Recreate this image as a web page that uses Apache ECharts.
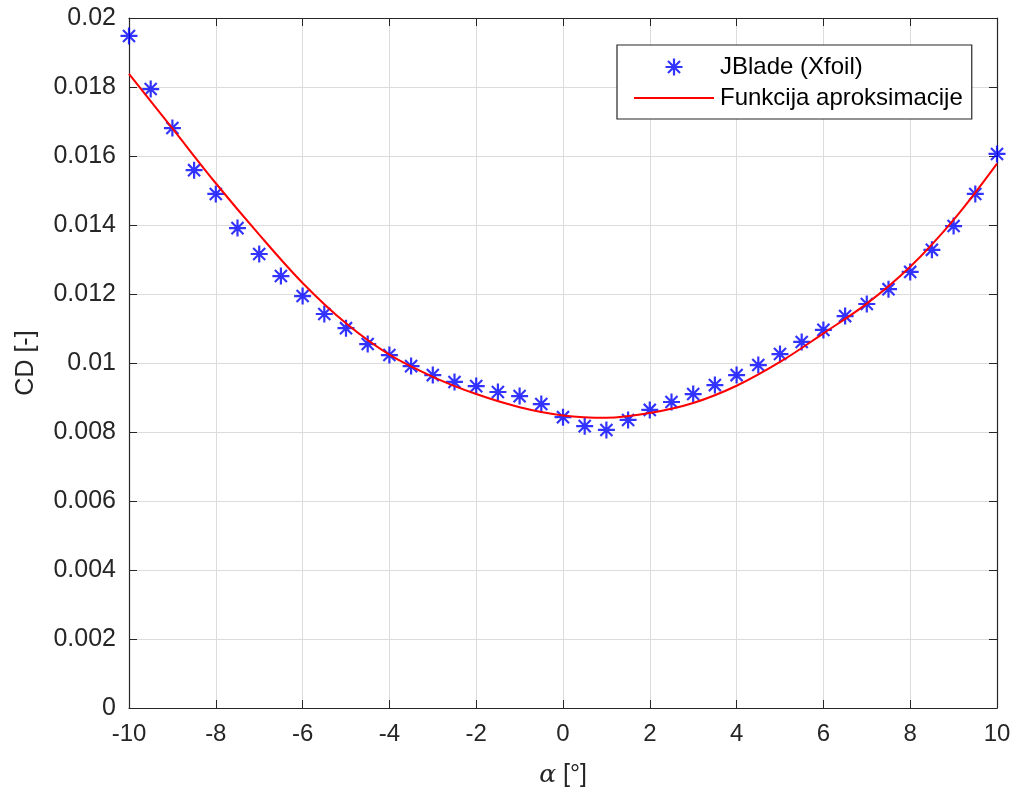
<!DOCTYPE html>
<html>
<head>
<meta charset="utf-8">
<script src="https://cdn.jsdelivr.net/npm/echarts@6/dist/echarts.min.js"></script>
<style>html,body{margin:0;padding:0;background:#fff}#c{width:1016px;height:796px}</style>
</head>
<body>
<div id="c"></div>
<script>
// Data
const alphaPoints = [-10,-9.5,-9,-8.5,-8,-7.5,-7,-6.5,-6,-5.5,-5,-4.5,-4,-3.5,-3,-2.5,-2,-1.5,-1,-0.5,0,0.5,1,1.5,2,2.5,3,3.5,4,4.5,5,5.5,6,6.5,7,7.5,8,8.5,9,9.5,10];
const cdJBlade = [0.01948,0.01794,0.01681,0.01559,0.01490,0.01391,0.01316,0.01252,0.01194,0.01142,0.01101,0.01055,0.01023,0.00991,0.00965,0.00945,0.00933,0.00916,0.00904,0.00881,0.00843,0.00817,0.00806,0.00835,0.00864,0.00887,0.00910,0.00936,0.00965,0.00994,0.01026,0.01061,0.01096,0.01136,0.01171,0.01214,0.01264,0.01328,0.01397,0.01490,0.01606];
const alphaFit = [-10,-9,-8,-7,-6,-5,-4,-3,-2,-1,0,1,2,3,4,5,6,7,8,9,10];
const cdFit = [0.01838,0.01680,0.01521,0.01372,0.01232,0.01115,0.01024,0.00960,0.00910,0.00872,0.00848,0.00841,0.00855,0.00884,0.00934,0.01003,0.01086,0.01172,0.01279,0.01415,0.01578];
const xTicks = {min:-10, max:10, interval:2};
const yTicks = {min:0, max:0.02, interval:0.002};
const seriesNames = ['JBlade (Xfoil)', 'Funkcija aproksimacije'];

const asterisk = 'path://M0 43.5H100V56.5H0Z M43.5 0H56.5V100H43.5Z M19 10L90 81L81 90L10 19Z M81 10L90 19L19 90L10 81Z';
const FONT = 'Liberation Sans, Arial, Helvetica, sans-serif';
const AX = '#262626';

const chart = echarts.init(document.getElementById('c'), null, {renderer:'canvas'});
const axisCommon = {
  axisLine:{show:true, onZero:false, lineStyle:{color:AX, width:1.2}},
  axisTick:{show:true, inside:true, length:8, lineStyle:{color:AX, width:1}},
};
chart.setOption({
  animation:false,
  backgroundColor:'#ffffff',
  grid:{left:129, right:19, top:18, bottom:88, containLabel:false},
  legend:{
    orient:'vertical', left:617, top:45,
    data:[{name:seriesNames[0]}, {name:seriesNames[1], itemStyle:{opacity:0}}],
    itemWidth:80, itemHeight:17, itemGap:7,
    padding:[10, 9, 9, 16],
    borderColor:AX, borderWidth:1.2, backgroundColor:'#ffffff',
    textStyle:{fontFamily:FONT, fontSize:24, color:'#000', padding:[0,0,0,1]},
    selectedMode:false
  },
  xAxis:[
    Object.assign({type:'value', min:xTicks.min, max:xTicks.max, interval:xTicks.interval, position:'bottom',
      name:'{a|α} [°]', nameLocation:'middle', nameGap:55,
      nameTextStyle:{fontFamily:FONT, fontSize:25, color:AX, rich:{a:{fontFamily:'DejaVu Serif, Liberation Serif, serif', fontStyle:'italic', fontSize:25, color:AX}}},
      axisLabel:{fontFamily:FONT, fontSize:24, color:AX, margin:14},
      splitLine:{show:true, lineStyle:{color:'#dcdcdc', width:1}}}, axisCommon),
    Object.assign({type:'value', min:xTicks.min, max:xTicks.max, interval:xTicks.interval, position:'top',
      axisLabel:{show:false}, splitLine:{show:false}}, axisCommon)
  ],
  yAxis:[
    Object.assign({type:'value', min:yTicks.min, max:yTicks.max, interval:yTicks.interval, position:'left',
      name:'CD [-]', nameLocation:'middle', nameGap:90, nameRotate:90,
      nameTextStyle:{fontFamily:FONT, fontSize:25, color:AX},
      axisLabel:{fontFamily:FONT, fontSize:25, color:AX, margin:13},
      splitLine:{show:true, lineStyle:{color:'#dcdcdc', width:1}}}, axisCommon),
    Object.assign({type:'value', min:yTicks.min, max:yTicks.max, interval:yTicks.interval, position:'right',
      axisLabel:{show:false}, splitLine:{show:false}}, axisCommon)
  ],
  series:[
    {name:seriesNames[0], type:'scatter', symbol:asterisk, symbolSize:17,
      itemStyle:{color:'#0000ff'}, z:3,
      data:alphaPoints.map((a,i)=>[a, cdJBlade[i]])},
    {name:seriesNames[1], type:'line', smooth:0.35, symbol:'none', showSymbol:false,
      lineStyle:{color:'#ff0000', width:2}, itemStyle:{color:'#ff0000'}, z:4,
      data:alphaFit.map((a,i)=>[a, cdFit[i]])}
  ]
});
</script>
</body>
</html>
